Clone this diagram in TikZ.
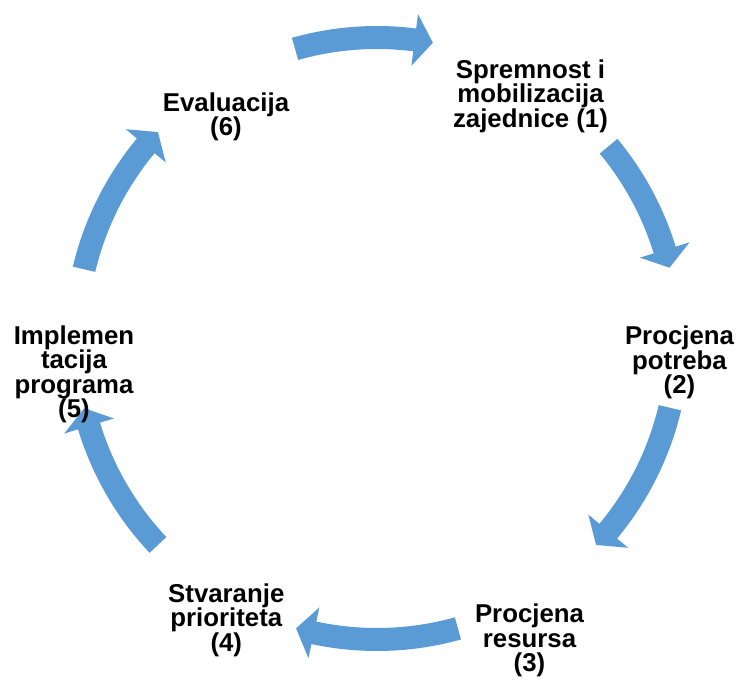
\documentclass[tikz,border=0pt]{standalone}
\usepackage{fontspec}
\setmainfont{Liberation Sans}
\definecolor{arrowblue}{HTML}{5B9BD5}
\tikzset{
  lbl/.style={font=\fontsize{25.8}{24.5}\selectfont\bfseries, align=center, inner sep=0pt, text=black},
  cyc/.style={fill=arrowblue, draw=none}
}
\newcommand\cyclearrow[2]{%
  \pgfmathsetmacro\hb{#2+3.5}%
  \fill[cyc] (#1:312.5pt) arc[start angle=#1, end angle=\hb, radius=312.5pt]
    -- (\hb:327pt) -- (#2:301pt) -- (\hb:275pt) -- (\hb:289.5pt)
    arc[start angle=\hb, end angle=#1, radius=289.5pt] -- cycle;
}
\begin{document}
\begin{tikzpicture}[x=1pt,y=1pt]
\path[use as bounding box] (0,0) rectangle (737,-680);
\begin{scope}[shift={(377,-338.5)}]
  \coordinate (c) at (0,0);
  \cyclearrow{105.8}{79.3}
  \cyclearrow{39.7}{13.6}
  \cyclearrow{-13.3}{-43.3}
  \cyclearrow{-74.4}{-105.6}
  \cyclearrow{-136.7}{-166.6}
  \cyclearrow{166.7}{136.7}
\end{scope}
\node[lbl] (n1) at (530.5,-96) {Spremnost i\\mobilizacija\\zajednice (1)};
\node[lbl] (n2) at (679.5,-362.4) {Procjena\\potreba\\(2)};
\node[lbl] (n3) at (529.5,-640.6) {Procjena\\resursa\\(3)};
\node[lbl] (n4) at (226.3,-620.3) {Stvaranje\\prioriteta\\(4)};
\node[lbl] (n5) at (74,-374.4) {Implemen\\tacija\\programa\\(5)};
\node[lbl] (n6) at (226,-116.6) {Evaluacija\\(6)};
\end{tikzpicture}
\end{document}
